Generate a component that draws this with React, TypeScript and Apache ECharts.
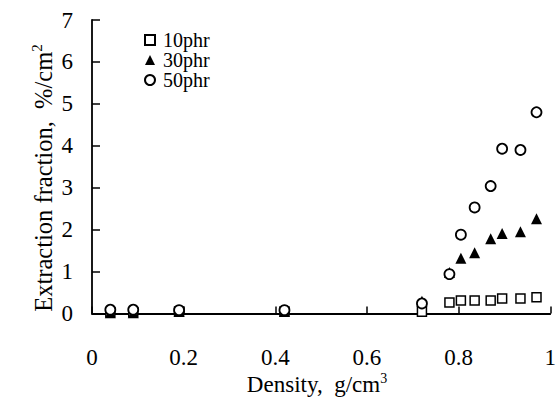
import React, { useEffect, useRef } from "react";
import * as echarts from "echarts";

const densities = [0.04, 0.09, 0.19, 0.42, 0.72, 0.78, 0.805, 0.835, 0.87, 0.895, 0.935, 0.97];
const phr10 = [0.03, 0.03, 0.05, 0.05, 0.04, 0.26, 0.31, 0.31, 0.31, 0.36, 0.36, 0.39];
const phr30 = [0.02, 0.02, 0.05, 0.05, 0.29, 0.98, 1.32, 1.45, 1.78, 1.91, 1.95, 2.26];
const phr50 = [0.09, 0.09, 0.08, 0.08, 0.24, 0.94, 1.88, 2.53, 3.04, 3.93, 3.9, 4.8];
const seriesNames = ["10phr", "30phr", "50phr"];

const FONT = "'Liberation Serif', 'Times New Roman', serif";

export default function App() {
  const ref = useRef<HTMLDivElement>(null);
  useEffect(() => {
    if (!ref.current) return;
    const chart = echarts.init(ref.current, undefined, { renderer: "svg" });
    const pts = (vals: number[]) => densities.map((d, i) => [d, vals[i]]);
    chart.setOption({
      animation: false,
      backgroundColor: "#fff",
      grid: { left: 92, right: 5, top: 20, bottom: 86.5, containLabel: false },
      legend: {
        orient: "vertical",
        left: 139,
        top: 25,
        itemWidth: 10,
        itemHeight: 10,
        itemGap: 0,
        data: seriesNames,
        textStyle: { fontFamily: FONT, fontSize: 20, color: "#000", lineHeight: 20, padding: [0, 0, 0, 3] },
      },
      xAxis: {
        type: "value",
        min: 0,
        max: 1,
        interval: 0.2,
        axisLine: { show: true, lineStyle: { color: "#000", width: 1.8 } },
        axisTick: { show: true, inside: true, length: 7, lineStyle: { color: "#000", width: 1.5 } },
        axisLabel: { fontFamily: FONT, fontSize: 23, color: "#000", margin: 32 },
        splitLine: { show: false },
      },
      yAxis: {
        type: "value",
        min: 0,
        max: 7,
        interval: 1,
        axisLine: { show: true, lineStyle: { color: "#000", width: 1.8 } },
        axisTick: { show: true, inside: true, length: 8, lineStyle: { color: "#000", width: 1.5 } },
        axisLabel: { fontFamily: FONT, fontSize: 23, color: "#000", margin: 19 },
        splitLine: { show: false },
      },
      graphic: [
        {
          type: "text",
          x: 317,
          y: 384,
          style: {
            text: "{a|Density,  g/cm}{s|3}",
            align: "center",
            verticalAlign: "middle",
            fill: "#000",
            rich: {
              a: { fontFamily: FONT, fontSize: 23, lineHeight: 26, fill: "#000" },
              s: { fontFamily: FONT, fontSize: 14, lineHeight: 14, verticalAlign: "top", fill: "#000" },
            },
          },
        },
        {
          type: "text",
          x: 43,
          y: 178,
          rotation: Math.PI / 2,
          style: {
            text: "{a|Extraction fraction,  %/cm}{s|2}",
            align: "center",
            verticalAlign: "middle",
            fill: "#000",
            rich: {
              a: { fontFamily: FONT, fontSize: 24.5, lineHeight: 27, fill: "#000" },
              s: { fontFamily: FONT, fontSize: 15, lineHeight: 15, verticalAlign: "top", fill: "#000" },
            },
          },
        },
      ],
      series: [
        {
          name: seriesNames[0],
          type: "scatter",
          clip: false,
          symbol: "rect",
          symbolSize: 9,
          itemStyle: { color: "#fff", borderColor: "#000", borderWidth: 1.5, opacity: 1 },
          data: pts(phr10),
          z: 2,
        },
        {
          name: seriesNames[1],
          type: "scatter",
          clip: false,
          symbol: "triangle",
          symbolSize: 11,
          itemStyle: { color: "#000", borderColor: "#000", borderWidth: 0, opacity: 1 },
          data: pts(phr30),
          z: 3,
        },
        {
          name: seriesNames[2],
          type: "scatter",
          clip: false,
          symbol: "circle",
          symbolSize: 10,
          itemStyle: { color: "#fff", borderColor: "#000", borderWidth: 1.8, opacity: 1 },
          data: pts(phr50),
          z: 4,
        },
      ],
    });
    return () => chart.dispose();
  }, []);
  return <div ref={ref} style={{ position: "fixed", left: 0, top: 0, width: 559, height: 400 }} />;
}
